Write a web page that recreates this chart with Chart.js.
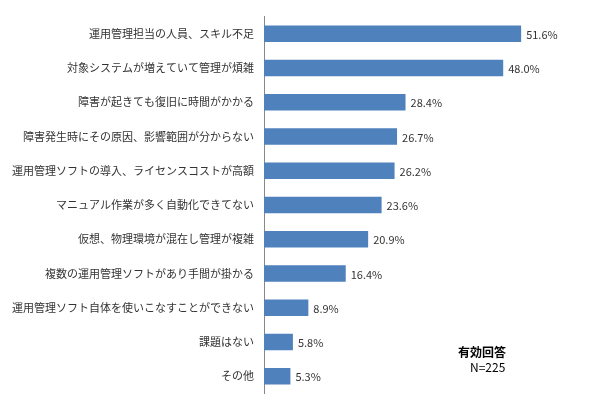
<!DOCTYPE html>
<html><head><meta charset="utf-8">
<script src="https://cdn.jsdelivr.net/npm/chart.js@4"></script>
<style>body{margin:0;background:#fff}#w{width:590px;height:410px;position:relative}</style>
</head><body><div id="w"><canvas id="c"></canvas></div>
<script>
const categories=["運用管理担当の人員、スキル不足","対象システムが増えていて管理が煩雑","障害が起きても復旧に時間がかかる","障害発生時にその原因、影響範囲が分からない","運用管理ソフトの導入、ライセンスコストが高額","マニュアル作業が多く自動化できてない","仮想、物理環境が混在し管理が複雑","複数の運用管理ソフトがあり手間が掛かる","運用管理ソフト自体を使いこなすことができない","課題はない","その他"];
const values=[51.6,48.0,28.4,26.7,26.2,23.6,20.9,16.4,8.9,5.8,5.3];
const noteTitle="有効回答", noteN="N=225";
const F='"Noto Sans CJK JP", sans-serif';
const labels={id:'labels',afterDatasetsDraw(ch){const c=ch.ctx;const m=ch.getDatasetMeta(0);c.save();c.font='11px '+F;c.fillStyle='#333';c.textBaseline='middle';
m.data.forEach((b,i)=>c.fillText(values[i].toFixed(1)+'%',b.x+5,b.y+1));
c.font='bold 12px '+F;c.fillStyle='#000';c.fillText(noteTitle,458,352);c.font='12px '+F;c.fillText(noteN,470,367);c.restore();}};
new Chart(document.getElementById('c'),{type:'bar',data:{labels:categories,datasets:[{data:values,backgroundColor:'#4f81bd',barPercentage:0.48,categoryPercentage:1}]},
options:{indexAxis:'y',responsive:true,maintainAspectRatio:false,animation:false,
layout:{padding:{top:-14,bottom:-3,right:27,left:0}},
plugins:{legend:{display:false},tooltip:{enabled:false}},
scales:{x:{display:false,min:0,max:60},
y:{afterFit(s){s.width=264;},grid:{display:false,drawTicks:false},border:{color:'#888'},ticks:{color:'#333',font:{family:F,size:11},padding:10}}}},
plugins:[labels]});
</script></body></html>
